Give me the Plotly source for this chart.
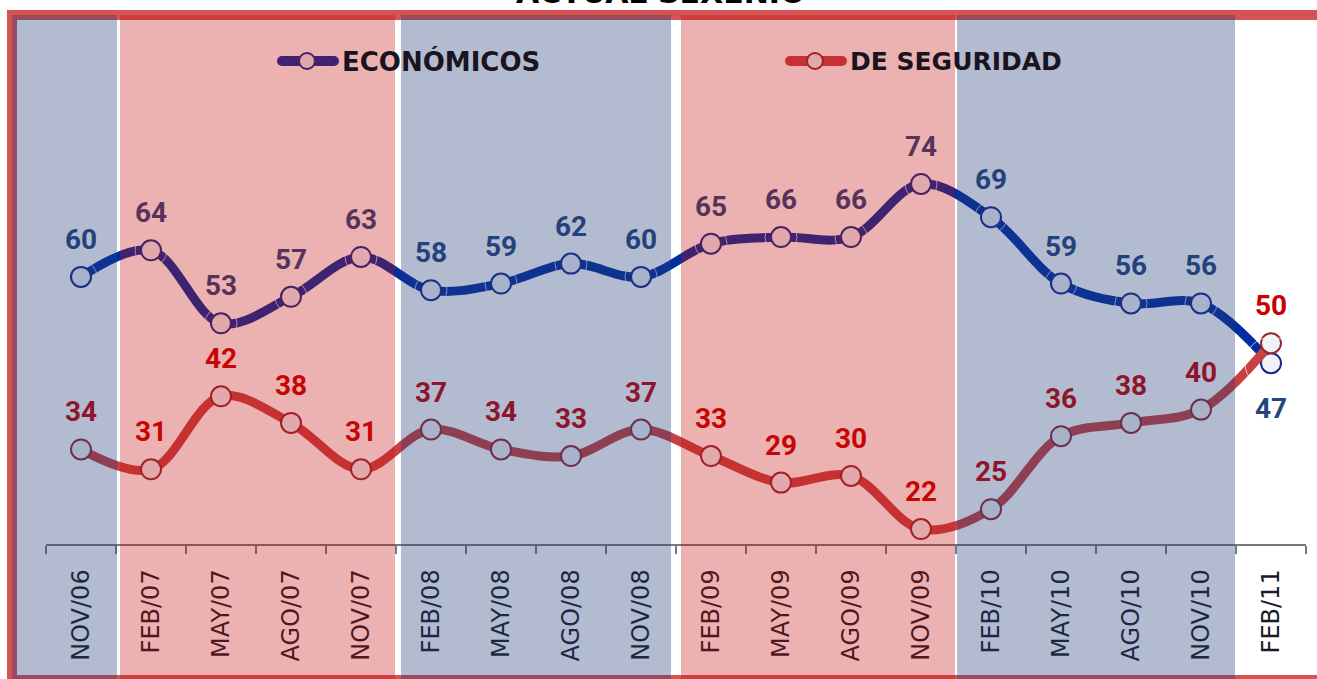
import plotly.graph_objects as go

# ---------------- data ----------------
categories = ["NOV/06", "FEB/07", "MAY/07", "AGO/07", "NOV/07", "FEB/08", "MAY/08",
              "AGO/08", "NOV/08", "FEB/09", "MAY/09", "AGO/09", "NOV/09", "FEB/10",
              "MAY/10", "AGO/10", "NOV/10", "FEB/11"]
economicos = [60, 64, 53, 57, 63, 58, 59, 62, 60, 65, 66, 66, 74, 69, 59, 56, 56, 47]
seguridad = [34, 31, 42, 38, 31, 37, 34, 33, 37, 33, 29, 30, 22, 25, 36, 38, 40, 50]
series_names = ["ECONÓMICOS", "DE SEGURIDAD"]
title_text = "ACTUAL SEXENIO"

# ---------------- styling ----------------
W, H = 1317, 679
BLUE_LINE = "rgb(0,45,160)"
RED_LINE = "rgb(200,65,65)"
BLUE_LABEL = "rgb(35,70,125)"
RED_LABEL = "rgb(200,0,0)"
MARKER_FILL = "rgb(240,242,248)"
BLUE_EDGE = "rgb(20,40,140)"
RED_EDGE = "rgb(150,40,50)"
BAND_BLUE = "rgba(38,60,120,0.35)"
BAND_PINK = "rgba(195,15,15,0.32)"
BORDER = "rgb(213,83,83)"
LABEL_FONT = "Roboto"
TEXT_FONT = "DejaVu Sans"


def px(x):
    return x / W


def py(y):
    return 1 - y / H


fig = go.Figure()

# blue line
fig.add_trace(go.Scatter(
    x=categories, y=economicos, mode="lines+markers", name=series_names[0],
    line=dict(color=BLUE_LINE, width=9, shape="spline", smoothing=1.0),
    marker=dict(size=20, color=MARKER_FILL, line=dict(color=BLUE_EDGE, width=2)),
    showlegend=False, hoverinfo="skip"))
# red line
fig.add_trace(go.Scatter(
    x=categories, y=seguridad, mode="lines+markers", name=series_names[1],
    line=dict(color=RED_LINE, width=9, shape="spline", smoothing=1.0),
    marker=dict(size=20, color=MARKER_FILL, line=dict(color=RED_EDGE, width=2)),
    showlegend=False, hoverinfo="skip"))

# value labels (invisible carrier markers set the text offset)
blue_pos = ["top center"] * (len(economicos) - 1) + ["bottom center"]
blue_sizes = [32] * (len(economicos) - 1) + [52]
fig.add_trace(go.Scatter(
    x=categories, y=economicos, mode="markers+text",
    text=[str(v) for v in economicos], textposition=blue_pos,
    textfont=dict(family=LABEL_FONT, size=28, color=BLUE_LABEL, weight="bold"),
    marker=dict(size=blue_sizes, color="rgba(0,0,0,0)"),
    showlegend=False, hoverinfo="skip"))
fig.add_trace(go.Scatter(
    x=categories, y=seguridad, mode="markers+text",
    text=[str(v) for v in seguridad], textposition="top center",
    textfont=dict(family=LABEL_FONT, size=28, color=RED_LABEL, weight="bold"),
    marker=dict(size=32, color="rgba(0,0,0,0)"),
    showlegend=False, hoverinfo="skip"))

shapes = []
# outer frame
shapes.append(dict(type="rect", xref="paper", yref="paper", layer="above",
                   x0=px(12), x1=px(1335), y0=py(680), y1=py(15),
                   line=dict(color=BORDER, width=10), fillcolor="rgba(0,0,0,0)"))


# legend symbols
def legend_symbol(x0, x1, cx, cy, line_color, edge_color):
    out = [dict(type="line", xref="paper", yref="paper", layer="above",
                x0=px(x0), x1=px(x1), y0=py(cy), y1=py(cy),
                line=dict(color=line_color, width=10))]
    for ex in (x0, x1):
        out.append(dict(type="circle", xref="paper", yref="paper", layer="above",
                        x0=px(ex - 5), x1=px(ex + 5), y0=py(cy + 5), y1=py(cy - 5),
                        line=dict(width=0), fillcolor=line_color))
    out.append(dict(type="circle", xref="paper", yref="paper", layer="above",
                    x0=px(cx - 8), x1=px(cx + 8), y0=py(cy + 8), y1=py(cy - 8),
                    line=dict(color=edge_color, width=2), fillcolor=MARKER_FILL))
    return out


shapes += legend_symbol(282, 334, 307, 61, BLUE_LINE, BLUE_EDGE)
shapes += legend_symbol(790, 842, 815, 61, RED_LINE, RED_EDGE)

# translucent period bands (drawn on top of everything)
bands = [(12, 117, BAND_BLUE), (120, 395, BAND_PINK), (401, 671, BAND_BLUE),
         (681, 955, BAND_PINK), (957, 1235, BAND_BLUE)]
for x0, x1, col in bands:
    shapes.append(dict(type="rect", xref="paper", yref="paper", layer="above",
                       x0=px(x0), x1=px(x1), y0=py(700), y1=py(15),
                       line=dict(width=0), fillcolor=col))

annotations = [
    dict(text=series_names[0], x=px(340), y=py(61), xref="paper", yref="paper",
         xanchor="left", yanchor="middle", showarrow=False,
         font=dict(family=TEXT_FONT, size=26, color="rgb(25,20,30)", weight="bold")),
    dict(text=series_names[1], x=px(848), y=py(61), xref="paper", yref="paper",
         xanchor="left", yanchor="middle", showarrow=False,
         font=dict(family=TEXT_FONT, size=25, color="rgb(25,20,30)", weight="bold")),
    dict(text=title_text, x=px(660), y=py(12), xref="paper", yref="paper",
         xanchor="center", yanchor="bottom", showarrow=False,
         font=dict(family=TEXT_FONT, size=30, color="black", weight="bold")),
]

fig.update_layout(
    width=W, height=H, autosize=False,
    margin=dict(l=0, r=0, t=0, b=0),
    paper_bgcolor="white", plot_bgcolor="rgba(0,0,0,0)",
    shapes=shapes, annotations=annotations, showlegend=False,
    xaxis=dict(domain=[px(46), px(1306)], type="category", categoryorder="array",
               categoryarray=categories, range=[-0.5, len(categories) - 0.5],
               showgrid=False, zeroline=False, showline=True,
               linecolor="rgb(115,120,130)", linewidth=1.5,
               ticks="outside", tickson="boundaries", ticklen=8, tickwidth=1.5,
               tickcolor="rgb(115,120,130)", tickangle=-90, ticklabelstandoff=14,
               tickfont=dict(family=TEXT_FONT, size=24, color="rgb(25,28,40)"),
               fixedrange=True),
    yaxis=dict(domain=[py(544), py(77.8)], range=[19.75, 90], visible=False,
               fixedrange=True),
)

fig.write_html("out.html", config={"displayModeBar": False},
               post_script="document.body.style.margin='0';document.body.style.overflow='hidden';")
